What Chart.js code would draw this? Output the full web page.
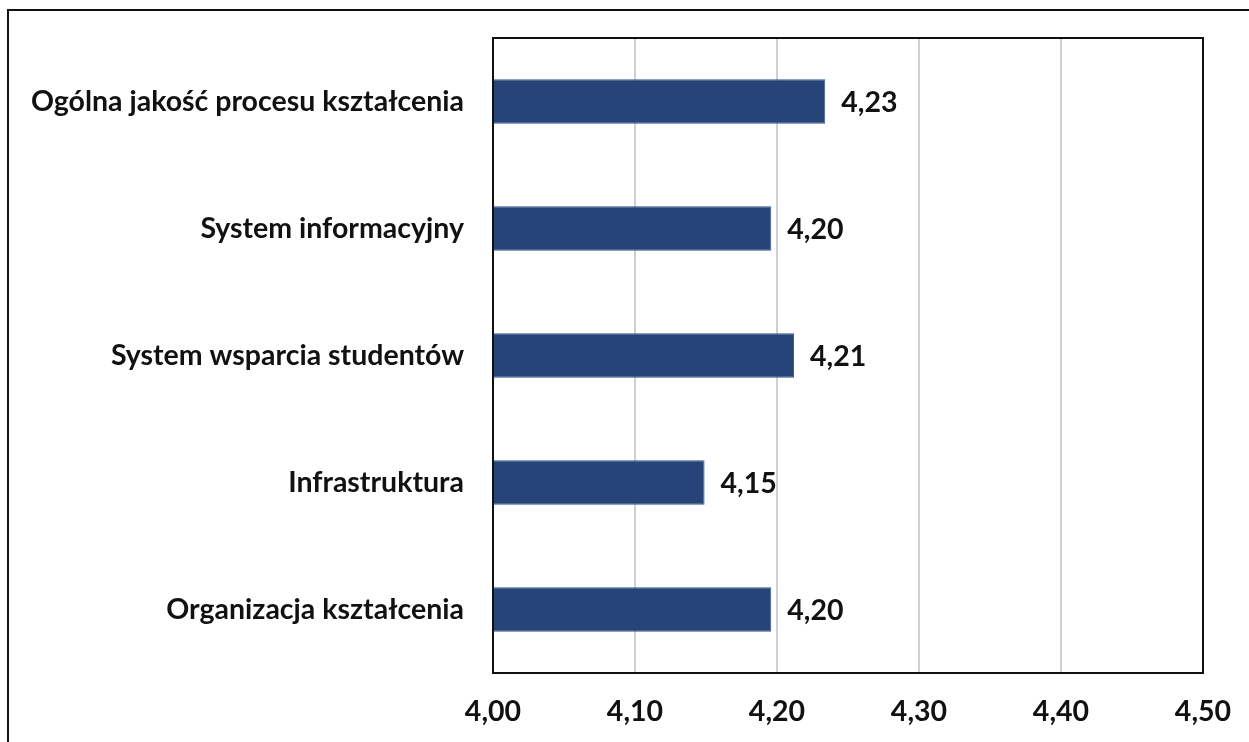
<!DOCTYPE html>
<html>
<head>
<meta charset="utf-8">
<script src="https://cdn.jsdelivr.net/npm/chart.js@4"></script>
<style>
    html, body { margin: 0; padding: 0; background: #fff; overflow: hidden; }
    #wrap { position: relative; width: 1249px; height: 742px; }
    #frame {
        position: absolute; left: 7px; top: 9px; width: 1300px; height: 800px;
        border: 2px solid #111; pointer-events: none;
    }
</style>
</head>
<body>
<div id="wrap">
    <canvas id="chart" width="1249" height="742"></canvas>
    <div id="frame"></div>
</div>
<script>
// Oceny wg obszarów
const categories = [
    'Ogólna jakość procesu kształcenia',
    'System informacyjny',
    'System wsparcia studentów',
    'Infrastruktura',
    'Organizacja kształcenia'
];
const values = [4.234, 4.196, 4.212, 4.149, 4.196];
const xTicks = [4.0, 4.1, 4.2, 4.3, 4.4, 4.5];

const FONT = 'Lato';
const FSIZE = 28.5;
const fmt = v => v.toFixed(2).replace('.', ',');

// ramka obszaru wykresu + etykiety wartości
const extras = {
    id: 'extras',
    afterDatasetsDraw(chart) {
        const ctx = chart.ctx;
        const meta = chart.getDatasetMeta(0);
        ctx.save();
        ctx.font = 'bold ' + FSIZE + 'px ' + FONT;
        ctx.fillStyle = '#111';
        ctx.textAlign = 'left';
        ctx.textBaseline = 'middle';
        meta.data.forEach((bar, i) => {
            ctx.fillText(fmt(values[i]), bar.x + 16, bar.y + 1);
        });
        const a = chart.chartArea;
        ctx.strokeStyle = '#111';
        ctx.lineWidth = 2;
        ctx.strokeRect(a.left, a.top, a.right - a.left, a.bottom - a.top);
        ctx.restore();
    }
};

new Chart(document.getElementById('chart'), {
    type: 'bar',
    data: {
        labels: categories,
        datasets: [{
            data: values,
            backgroundColor: '#264478',
            borderColor: '#3a5a92',
            borderWidth: 1,
            barPercentage: 1,
            categoryPercentage: 0.35
        }]
    },
    options: {
        indexAxis: 'y',
        responsive: false,
        animation: false,
        layout: { padding: { top: 38, right: 46, left: 0, bottom: 0 } },
        plugins: {
            legend: { display: false },
            tooltip: { enabled: false }
        },
        scales: {
            x: {
                min: 4.0,
                max: 4.5,
                afterBuildTicks: scale => {
                    scale.ticks = xTicks.map(v => ({ value: v }));
                },
                afterFit: scale => {
                    scale.height = 69;
                    scale.paddingLeft = 0;
                    scale.paddingRight = 0;
                },
                grid: { color: '#d0d0d0', lineWidth: 2, drawTicks: false },
                border: { display: false },
                ticks: {
                    padding: 22,
                    color: '#111',
                    font: { family: FONT, size: FSIZE, weight: 'bold' },
                    callback: v => fmt(v)
                }
            },
            y: {
                afterFit: scale => {
                    scale.width = 493;
                    scale.paddingTop = 0;
                    scale.paddingBottom = 0;
                },
                grid: { display: false, drawTicks: false },
                border: { display: false },
                ticks: {
                    padding: 29,
                    color: '#111',
                    font: { family: FONT, size: FSIZE, weight: 'bold' }
                }
            }
        }
    },
    plugins: [extras]
});
</script>
</body>
</html>
